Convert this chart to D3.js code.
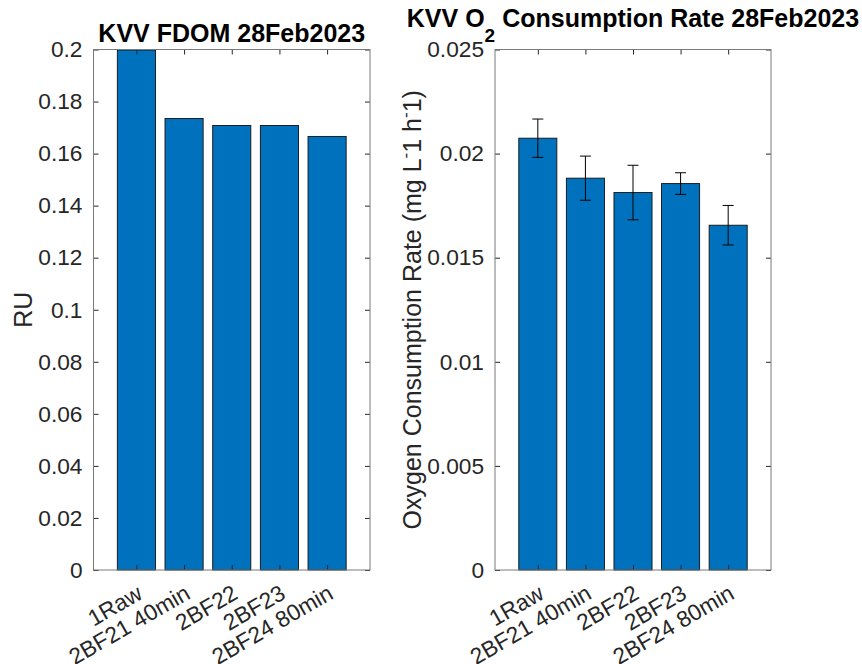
<!DOCTYPE html>
<html>
<head>
<meta charset="utf-8">
<script src="https://cdn.jsdelivr.net/npm/d3@7"></script>
<style>
  html, body { margin: 0; padding: 0; background: #fff; }
  svg { display: block; }
  text { font-family: "Liberation Sans", Arial, Helvetica, sans-serif; }
</style>
</head>
<body>
<svg id="chart" width="862" height="664"></svg>
<script>
// ---- data ----
const categories = ["1Raw", "2BF21 40min", "2BF22", "2BF23", "2BF24 80min"];
const fdomValues = [0.1998, 0.1735, 0.1708, 0.1708, 0.1666];
const o2Values = [0.02074, 0.01882, 0.01813, 0.01856, 0.01656];
const o2Errors = [0.00092, 0.00106, 0.00131, 0.00052, 0.00095];
const fdomTicks = [0, 0.02, 0.04, 0.06, 0.08, 0.1, 0.12, 0.14, 0.16, 0.18, 0.2];
const o2Ticks = [0, 0.005, 0.01, 0.015, 0.02, 0.025];

const svg = d3.select("#chart");
const textColor = "#262626";
const barColor = "#0072BD";
const tickFont = "22.7px";
const labelFont = "25px";

function panel(opts) {
  const { left, right, top, bottom, yMax, ticks, values, errors } = opts;
  const x = d3.scaleLinear().domain([0.1, categories.length + 0.9]).range([left, right]);
  const y = d3.scaleLinear().domain([0, yMax]).range([bottom, top]);
  const g = svg.append("g");
  const bw = x(0.8) - x(0);

  g.selectAll("rect.bar").data(values).enter().append("rect")
    .attr("class", "bar")
    .attr("x", (d, i) => x(i + 1) - bw / 2)
    .attr("width", bw)
    .attr("y", d => y(d))
    .attr("height", d => y(0) - y(d))
    .attr("fill", barColor)
    .attr("stroke", "#111")
    .attr("stroke-width", 0.9);

  if (errors) {
    const eg = g.append("g").attr("stroke", "#000").attr("stroke-width", 1);
    values.forEach((v, i) => {
      const cx = x(i + 1);
      const e = errors[i];
      eg.append("line").attr("x1", cx).attr("x2", cx).attr("y1", y(v + e)).attr("y2", y(v - e));
      eg.append("line").attr("x1", cx - 5.5).attr("x2", cx + 5.5).attr("y1", y(v + e)).attr("y2", y(v + e));
      eg.append("line").attr("x1", cx - 5.5).attr("x2", cx + 5.5).attr("y1", y(v - e)).attr("y2", y(v - e));
    });
  }

  const idx = categories.map((c, i) => i + 1);
  const fmt = d => d3.format("")(+d.toFixed(4));

  const axL = g.append("g").attr("transform", `translate(${left},0)`)
    .call(d3.axisLeft(y).tickValues(ticks).tickSize(-5).tickSizeOuter(0).tickPadding(11).tickFormat(fmt));
  const axR = g.append("g").attr("transform", `translate(${right},0)`)
    .call(d3.axisRight(y).tickValues(ticks).tickSize(-5).tickSizeOuter(0).tickFormat(""));
  const axT = g.append("g").attr("transform", `translate(0,${top})`)
    .call(d3.axisTop(x).tickValues(idx).tickSize(-5).tickSizeOuter(0).tickFormat(""));
  const axB = g.append("g").attr("transform", `translate(0,${bottom})`)
    .call(d3.axisBottom(x).tickValues(idx).tickSize(-5).tickSizeOuter(0).tickFormat(""));
  [axL, axR, axT, axB].forEach(a => {
    a.select(".domain").remove();
    a.selectAll("line").attr("stroke", textColor).attr("stroke-width", 1);
    a.selectAll("text").attr("fill", textColor).style("font-size", tickFont)
      .style("font-family", "'Liberation Sans', Arial, Helvetica, sans-serif");
  });

  g.append("rect")
    .attr("x", left).attr("y", top)
    .attr("width", right - left).attr("height", bottom - top)
    .attr("fill", "none").attr("stroke", "#7a7a7a").attr("stroke-width", 1);

  // rotated category labels
  g.selectAll("text.cat").data(categories).enter().append("text")
    .attr("class", "cat")
    .attr("transform", (d, i) => `translate(${x(i + 1) - 1},${bottom + 13}) rotate(-30)`)
    .attr("dy", "0.75em")
    .attr("text-anchor", "end")
    .attr("fill", textColor)
    .style("font-size", tickFont)
    .text(d => d);

  return { g, x, y };
}

// Left panel
panel({ left: 93.5, right: 370, top: 49.5, bottom: 570, yMax: 0.2, ticks: fdomTicks, values: fdomValues });
svg.append("text")
  .attr("x", (93.5 + 370) / 2).attr("y", 42)
  .attr("text-anchor", "middle").attr("font-weight", "bold").style("font-size", "25px").attr("fill", "#000")
  .text("KVV FDOM 28Feb2023");
svg.append("text")
  .attr("transform", `translate(32,${(49.5 + 570) / 2}) rotate(-90)`)
  .attr("text-anchor", "middle").style("font-size", labelFont).attr("fill", textColor)
  .text("RU");

// Right panel
panel({ left: 495, right: 771, top: 49.5, bottom: 570, yMax: 0.025, ticks: o2Ticks, values: o2Values, errors: o2Errors });
const t2 = svg.append("text")
  .attr("x", (495 + 771) / 2).attr("y", 27)
  .attr("text-anchor", "middle").attr("font-weight", "bold").style("font-size", "25px").attr("fill", "#000");
t2.append("tspan").text("KVV O");
t2.append("tspan").attr("dy", 15).style("font-size", "19px").text("2");
t2.append("tspan").attr("dy", -15).text(" Consumption Rate 28Feb2023");

const yl2 = svg.append("text")
  .attr("transform", `translate(421,${(49.5 + 570) / 2}) rotate(-90)`)
  .attr("text-anchor", "middle").style("font-size", labelFont).attr("fill", textColor);
yl2.append("tspan").text("Oxygen Consumption Rate (mg L");
yl2.append("tspan").attr("dy", -10).style("font-size", "17px").text("-");
yl2.append("tspan").attr("dy", 10).text("1 h");
yl2.append("tspan").attr("dy", -10).style("font-size", "17px").text("-");
yl2.append("tspan").attr("dy", 10).text("1)");
</script>
</body>
</html>
